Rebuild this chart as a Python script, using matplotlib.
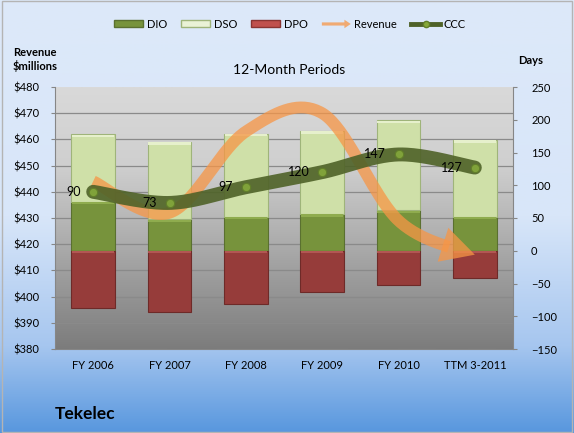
import numpy as np
import matplotlib
matplotlib.use('Agg')
import matplotlib.pyplot as plt
import matplotlib.patches as mpatches
from matplotlib.lines import Line2D
from matplotlib.legend_handler import HandlerPatch
from matplotlib.transforms import blended_transform_factory
from matplotlib.colors import LinearSegmentedColormap
from matplotlib.ticker import FuncFormatter

plt.rcParams['font.family'] = ['Lato', 'DejaVu Sans']

# data
periods = ['FY 2006', 'FY 2007', 'FY 2008', 'FY 2009', 'FY 2010', 'TTM 3-2011']
dio = [75, 48, 52, 56, 62, 52]
dso = [103, 118, 127, 127, 137, 117]
dpo = [-88, -93, -82, -63, -52, -42]
ccc = [90, 73, 97, 120, 147, 127]
revenue = [444, 432, 463, 470, 429, 416]

c_dio = '#77933c'
c_dso = '#cfe0a8'
c_dpo = '#963c3a'
c_rev = '#f79646'
c_ccc = '#4f6228'


def smooth(y, n=40):
    # excel-like smoothed line (bezier through the points)
    pts = np.column_stack([np.arange(len(y)), y]).astype(float)
    P = np.vstack([pts[0], pts, pts[-1]])
    out = []
    for i in range(1, len(P) - 2):
        p0, p1, p2, p3 = P[i - 1], P[i], P[i + 1], P[i + 2]
        c1 = p1 + (p2 - p0) / 6
        c2 = p2 - (p3 - p1) / 6
        t = np.linspace(0, 1, n)[:, None]
        seg = (1 - t) ** 3 * p1 + 3 * (1 - t) ** 2 * t * c1 + 3 * (1 - t) * t ** 2 * c2 + t ** 3 * p2
        out.append(seg if i == 1 else seg[1:])
    return np.vstack(out)


fig = plt.figure(figsize=(5.74, 4.33), dpi=100)

# figure background gradient
bg = fig.add_axes([0, 0, 1, 1], zorder=-10)
bg_cmap = LinearSegmentedColormap.from_list('bg', [
    (0.0, '#dde9f9'), (0.5, '#d8e6f9'), (0.8, '#a6c6ef'), (1.0, '#5897de')])
bg.imshow(np.linspace(0, 1, 256)[:, None], cmap=bg_cmap, aspect='auto',
          extent=[0, 1, 0, 1], transform=bg.transAxes)
bg.set_axis_off()
fig.patches.append(mpatches.Rectangle((0.003, 0.003), 0.994, 0.994, transform=fig.transFigure,
                                      fill=False, edgecolor='#b4b4b4', lw=1))

ax = fig.add_axes([55 / 574, 1 - 349 / 433, (513 - 55) / 574, (349 - 87) / 433])
ax_rev = ax.twinx()
ax.yaxis.tick_right()
ax_rev.yaxis.tick_left()

x = np.arange(len(periods))
ax.set_xlim(-0.5, len(periods) - 0.5)
ax.set_ylim(-150, 250)
ax_rev.set_ylim(380, 480)

# plot area gradient
pa_cmap = LinearSegmentedColormap.from_list('pa', [
    (0.0, '#d9d9d9'), (0.3, '#cfcfcf'), (1.0, '#7c7c7c')])
ax.imshow(np.linspace(0, 1, 256)[:, None], cmap=pa_cmap, aspect='auto',
          extent=[0, 1, 0, 1], transform=ax.transAxes, zorder=0)

# gridlines follow the revenue axis
grid_tr = blended_transform_factory(ax.transAxes, ax_rev.transData)
for v in range(390, 480, 10):
    ax.plot([0, 1], [v, v], transform=grid_tr, color='#8a8a8a', lw=0.9, zorder=1)

# stacked bars
w = 0.57
ax.bar(x, dio, w, color=c_dio, edgecolor='#5a7030', lw=0.8, zorder=2)
ax.bar(x, dso, w, bottom=dio, color=c_dso, edgecolor='#9fb47a', lw=0.8, zorder=2)
ax.bar(x, dpo, w, color=c_dpo, edgecolor='#6e2a28', lw=0.8, zorder=2)
# bevel highlight on top of each segment
tops = [(np.array(dio), '#8fac4e'),
        (np.array(dio) + np.array(dso), '#e6f0cc'),
        (np.zeros(6), '#b25653')]
for top, hc in tops:
    ax.bar(x, -3.5, w * 0.97, bottom=top - 0.6, color=hc, lw=0, zorder=2.1)

# revenue arrow
s = smooth(revenue)
n_last = 40
k_line = len(s) - int(n_last * 0.4)
k_tail = len(s) - int(n_last * 0.55)
ax.plot(s[:k_line, 0], s[:k_line, 1], transform=ax_rev.transData, color=c_rev,
        lw=8.5, alpha=0.75, solid_capstyle='butt', zorder=3)
ax.annotate('', xy=(s[-1, 0], s[-1, 1]), xytext=(s[k_tail, 0], s[k_tail, 1]),
            xycoords=ax_rev.transData, textcoords=ax_rev.transData,
            arrowprops=dict(arrowstyle='-|>,head_length=0.6,head_width=0.32', mutation_scale=40,
                            color=c_rev, alpha=0.75, lw=0, shrinkA=0, shrinkB=0),
            zorder=3)

# CCC line
sc = smooth(ccc)
ax.plot(sc[:, 0], sc[:, 1], color=c_ccc, lw=10, alpha=0.9, solid_capstyle='round', zorder=4)
ax.plot(x, ccc, 'o', ms=6, mfc='#80a23a', mec='#617e2a', mew=0.8, zorder=5)
for i, v in enumerate(ccc):
    ax.annotate(str(v), (i, v), xytext=(-9, 0), textcoords='offset points',
                ha='right', va='center', fontsize=9, zorder=6)

# axes styling
ax.set_xticks(x)
ax.set_xticklabels(periods)
ax.set_yticks(range(-150, 251, 50))
ax_rev.set_yticks(range(380, 481, 10))
ax_rev.yaxis.set_major_formatter(FuncFormatter(lambda v, p: '$%d' % v))
ax.tick_params(axis='x', length=0, labelsize=8, pad=8)
ax.tick_params(axis='y', length=3, color='#868686', labelsize=8, pad=10)
ax_rev.tick_params(axis='y', length=3, color='#868686', labelsize=8, pad=8)
ax.spines['top'].set_visible(False)
for sp in ['left', 'right', 'bottom']:
    ax.spines[sp].set_color('#868686')
for sp in ax_rev.spines.values():
    sp.set_visible(False)

# texts
fig.text(35 / 574, 1 - 52 / 433, 'Revenue', ha='center', va='center', fontsize=8, weight='bold')
fig.text(35 / 574, 1 - 66 / 433, '$millions', ha='center', va='center', fontsize=8, weight='bold')
fig.text(531 / 574, 1 - 60 / 433, 'Days', ha='center', va='center', fontsize=8, weight='bold')
fig.text(289 / 574, 1 - 70 / 433, '12-Month Periods', ha='center', va='center', fontsize=10)
fig.text(55 / 574, 1 - 414 / 433, 'Tekelec', ha='left', va='center', fontsize=12.5, weight='bold')


# legend
def arrow_patch(legend, orig_handle, xdescent, ydescent, width, height, fontsize):
    return mpatches.FancyArrow(0, height / 2, width, 0, width=height * 0.45,
                               head_width=height * 1.2, head_length=height * 0.9,
                               length_includes_head=True)


h_dio = mpatches.Patch(facecolor=c_dio, edgecolor='#5a7030')
h_dso = mpatches.Patch(facecolor='#eaf2d6', edgecolor='#9fb47a')
h_dpo = mpatches.Patch(facecolor='#c0504d', edgecolor='#8a3432')
h_rev = mpatches.Patch(facecolor=c_rev, edgecolor='none', alpha=0.75)
h_ccc = Line2D([], [], color=c_ccc, lw=3.5, marker='o', ms=4.5, mfc='#86a83a', mec='#617e2a')
fig.legend([h_dio, h_dso, h_dpo, h_rev, h_ccc], ['DIO', 'DSO', 'DPO', 'Revenue', 'CCC'],
           loc='center', bbox_to_anchor=(290 / 574, 1 - 24 / 433), ncol=5, frameon=False,
           fontsize=8, handlelength=2.6, handleheight=0.6, columnspacing=1.3, handletextpad=0.3,
           handler_map={h_rev: HandlerPatch(patch_func=arrow_patch)})

fig.savefig('out.png', dpi=100)
